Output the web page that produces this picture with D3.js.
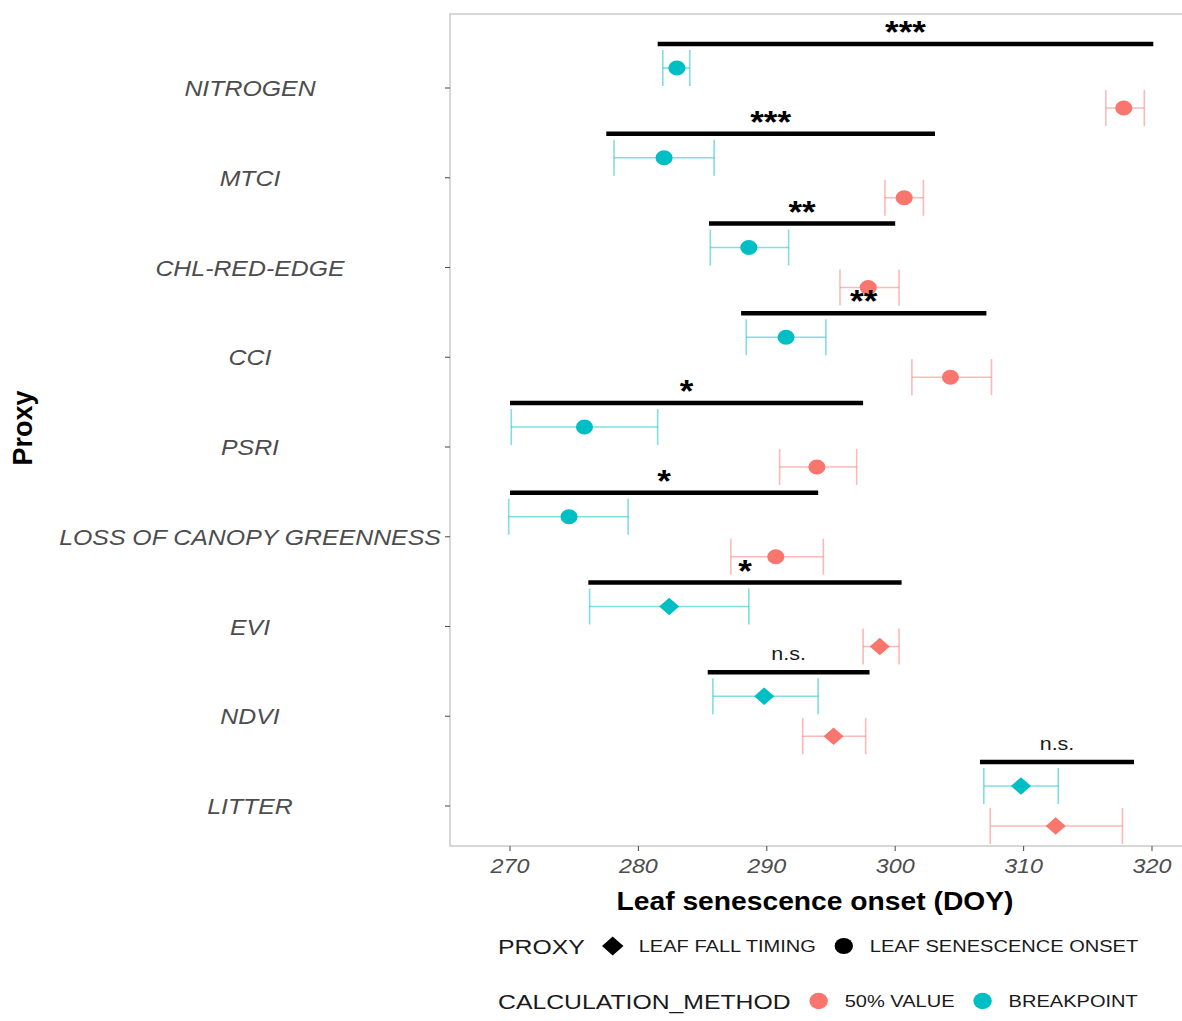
<!DOCTYPE html>
<html>
<head>
<meta charset="utf-8">
<script src="https://cdn.jsdelivr.net/npm/d3@7"></script>
<style>
  body { margin: 0; background: #fff; }
  svg { display: block; font-family: "Liberation Sans", Arial, sans-serif; }
</style>
</head>
<body>
<div id="chart"></div>
<script>
// Proxies, top to bottom
const proxies = ["NITROGEN", "MTCI", "CHL-RED-EDGE", "CCI", "PSRI",
    "LOSS OF CANOPY GREENNESS", "EVI", "NDVI", "LITTER"];
const proxyType = ["LEAF SENESCENCE ONSET", "LEAF SENESCENCE ONSET", "LEAF SENESCENCE ONSET",
    "LEAF SENESCENCE ONSET", "LEAF SENESCENCE ONSET", "LEAF SENESCENCE ONSET",
    "LEAF FALL TIMING", "LEAF FALL TIMING", "LEAF FALL TIMING"];

// BREAKPOINT estimates (mean, lower, upper)
const breakMean = [283.0, 282.0, 288.6, 291.5, 275.8, 274.6, 282.4, 289.8, 309.8];
const breakLow  = [281.9, 278.1, 285.6, 288.4, 270.1, 269.9, 276.2, 285.8, 306.9];
const breakHigh = [284.0, 285.9, 291.7, 294.6, 281.5, 279.2, 288.6, 294.0, 312.7];

// 50% VALUE estimates (mean, lower, upper)
const halfMean = [317.8, 300.7, 297.9, 304.3, 293.9, 290.7, 298.8, 295.2, 312.5];
const halfLow  = [316.4, 299.2, 295.7, 301.3, 291.0, 287.2, 297.5, 292.8, 307.4];
const halfHigh = [319.4, 302.2, 300.3, 307.5, 297.0, 294.4, 300.3, 297.7, 317.7];

// significance brackets
const sigStart = [281.5, 277.5, 285.5, 288.0, 270.0, 270.0, 276.1, 285.4, 306.6];
const sigEnd   = [320.1, 303.1, 300.0, 307.1, 297.5, 294.0, 300.5, 298.0, 318.6];
const sigLabel = ["***", "***", "**", "**", "*", "*", "*", "n.s.", "n.s."];

const xTicks = [270, 280, 290, 300, 310, 320];
const methods = ["50% VALUE", "BREAKPOINT"];
const proxyKinds = ["LEAF FALL TIMING", "LEAF SENESCENCE ONSET"];

const width = 1182;
const height = 1021;
const panel = {left: 450, right: 1200, top: 14, bottom: 846};
const sx = 1.13; // picture is a little wider than tall

const colour = d3.scaleOrdinal().domain(methods).range(["#F8766D", "#00BFC4"]);
const shape = d3.scaleOrdinal().domain(proxyKinds).range([d3.symbolDiamond2, d3.symbolCircle]);
const shapeSize = d3.scaleOrdinal().domain(proxyKinds).range([200, 180]);

const x = d3.scaleLinear().domain([270, 320]).range([510, 1152]);
const y = d3.scalePoint().domain(proxies).range([88, 806]);
const dodge = d3.scaleOrdinal().domain(methods).range([20, -20]);

const rows = [];
proxies.forEach((p, i) => {
    rows.push({proxy: p, kind: proxyType[i], method: "BREAKPOINT", mean: breakMean[i], lo: breakLow[i], hi: breakHigh[i]});
    rows.push({proxy: p, kind: proxyType[i], method: "50% VALUE", mean: halfMean[i], lo: halfLow[i], hi: halfHigh[i]});
});

const svg = d3.select("#chart").append("svg")
    .attr("width", width)
    .attr("height", height);

function stext(g, px, py, str, size, opts = {}) {
    return g.append("text")
        .attr("transform", `translate(${px},${py}) scale(${opts.scale ?? sx},1)`)
        .attr("text-anchor", opts.anchor ?? "start")
        .attr("font-size", size)
        .attr("font-weight", opts.weight ?? "normal")
        .attr("font-style", opts.style ?? "normal")
        .attr("fill", opts.fill ?? "#1a1a1a")
        .text(str);
}

// panel border
svg.append("rect")
    .attr("x", panel.left).attr("y", panel.top)
    .attr("width", panel.right - panel.left).attr("height", panel.bottom - panel.top)
    .attr("fill", "none").attr("stroke", "#bdbdbd").attr("stroke-width", 1.2);

// y axis ticks and labels
const yAxis = svg.append("g");
proxies.forEach(p => {
    yAxis.append("line")
        .attr("x1", panel.left - 5).attr("x2", panel.left)
        .attr("y1", y(p)).attr("y2", y(p))
        .attr("stroke", "#555").attr("stroke-width", 1.1);
    stext(yAxis, 250, y(p) + 8, p, 22, {anchor: "middle", style: "italic", fill: "#4d4d4d"});
});

// x axis ticks and labels
const xAxis = svg.append("g");
xTicks.forEach(t => {
    xAxis.append("line")
        .attr("x1", x(t)).attr("x2", x(t))
        .attr("y1", panel.bottom).attr("y2", panel.bottom + 5)
        .attr("stroke", "#555").attr("stroke-width", 1.1);
    stext(xAxis, x(t), 873, t, 21, {anchor: "middle", style: "italic", fill: "#4d4d4d", scale: 1.11});
});

stext(svg, (panel.left + 1180) / 2, 910, "Leaf senescence onset (DOY)", 25, {anchor: "middle", weight: "bold", fill: "#000"});
svg.append("text")
    .attr("transform", "translate(32,428) rotate(-90)")
    .attr("text-anchor", "middle")
    .attr("font-size", 27).attr("font-weight", "bold").attr("fill", "#000")
    .text("Proxy");

// error bars
const eb = svg.append("g")
    .selectAll("g")
    .data(rows)
    .join("g")
    .attr("stroke", d => colour(d.method))
    .attr("stroke-opacity", 0.5)
    .attr("stroke-width", 1.6)
    .attr("transform", d => `translate(0,${y(d.proxy) + dodge(d.method)})`);
eb.append("line").attr("x1", d => x(d.lo)).attr("x2", d => x(d.hi));
eb.append("line").attr("x1", d => x(d.lo)).attr("x2", d => x(d.lo)).attr("y1", -18).attr("y2", 18);
eb.append("line").attr("x1", d => x(d.hi)).attr("x2", d => x(d.hi)).attr("y1", -18).attr("y2", 18);

// points
svg.append("g")
    .selectAll("path")
    .data(rows)
    .join("path")
    .attr("transform", d => `translate(${x(d.mean)},${y(d.proxy) + dodge(d.method)}) scale(${sx},1)`)
    .attr("d", d => d3.symbol(shape(d.kind), shapeSize(d.kind))())
    .attr("fill", d => colour(d.method));

// significance brackets
const sig = svg.append("g");
proxies.forEach((p, i) => {
    const by = y(p) - 44;
    sig.append("line")
        .attr("x1", x(sigStart[i])).attr("x2", x(sigEnd[i]))
        .attr("y1", by).attr("y2", by)
        .attr("stroke", "#000").attr("stroke-width", 4.5);
    const cx = (x(sigStart[i]) + x(sigEnd[i])) / 2;
    if (sigLabel[i] === "n.s.") {
        stext(sig, cx, by - 12, sigLabel[i], 19, {anchor: "middle", fill: "#1a1a1a"});
    } else {
        stext(sig, cx, by - 1, sigLabel[i], 31, {anchor: "middle", weight: "bold", fill: "#000"});
    }
});

// legends
const lsx = 1.18;
function legendRow(title, items, baseline, keyFn) {
    const g = svg.append("g");
    const t = stext(g, 498, baseline + 7.5, title, 21, {fill: "#1a1a1a", scale: lsx});
    let end = 498 + t.node().getComputedTextLength() * lsx;
    items.forEach(item => {
        const kx = end + 28;
        g.append("path")
            .attr("transform", `translate(${kx},${baseline}) scale(${sx},1)`)
            .attr("d", keyFn(item).d)
            .attr("fill", keyFn(item).fill);
        const lab = stext(g, kx + 26, baseline + 6, item, 17, {fill: "#1a1a1a", scale: lsx});
        end = kx + 26 + lab.node().getComputedTextLength() * lsx;
    });
}

legendRow("PROXY", proxyKinds, 946, k => ({
    d: d3.symbol(shape(k), shapeSize(k) * 1.15)(),
    fill: "#000"
}));
legendRow("CALCULATION_METHOD", methods, 1001, m => ({
    d: d3.symbol(d3.symbolCircle, 210)(),
    fill: colour(m)
}));
</script>
</body>
</html>
